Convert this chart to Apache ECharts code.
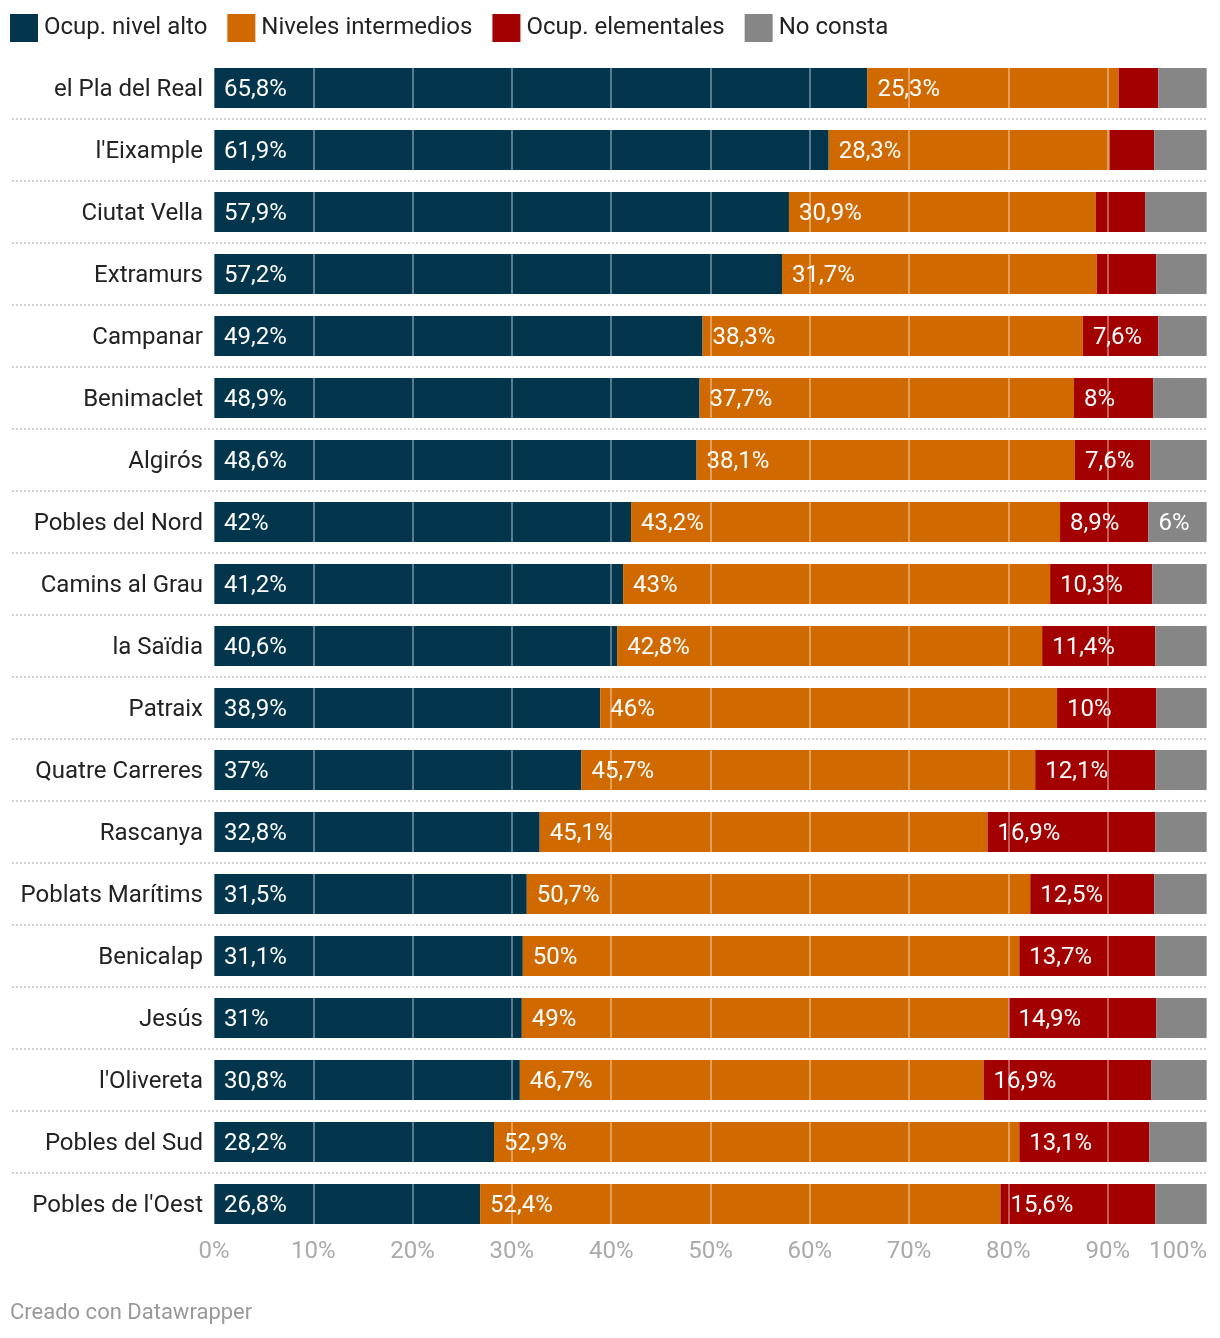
<!DOCTYPE html>
<html>
<head>
<meta charset="utf-8">
<script src="https://cdn.jsdelivr.net/npm/echarts@6/dist/echarts.min.js"></script>
<style>
  html, body { margin: 0; padding: 0; background: #fff; }
  #chart { width: 1220px; height: 1338px; }
</style>
</head>
<body>
<div id="chart"></div>
<script>
const categories = ["el Pla del Real", "l'Eixample", "Ciutat Vella", "Extramurs", "Campanar", "Benimaclet", "Algirós", "Pobles del Nord", "Camins al Grau", "la Saïdia", "Patraix", "Quatre Carreres", "Rascanya", "Poblats Marítims", "Benicalap", "Jesús", "l'Olivereta", "Pobles del Sud", "Pobles de l'Oest"];
const nivelAlto = [65.8, 61.9, 57.9, 57.2, 49.2, 48.9, 48.6, 42, 41.2, 40.6, 38.9, 37, 32.8, 31.5, 31.1, 31, 30.8, 28.2, 26.8];
const intermedios = [25.3, 28.3, 30.9, 31.7, 38.3, 37.7, 38.1, 43.2, 43, 42.8, 46, 45.7, 45.1, 50.7, 50, 49, 46.7, 52.9, 52.4];
const elementales = [4.0, 4.5, 5.0, 6.0, 7.6, 8, 7.6, 8.9, 10.3, 11.4, 10, 12.1, 16.9, 12.5, 13.7, 14.9, 16.9, 13.1, 15.6];
const noConsta = [4.9, 5.3, 6.2, 5.1, 4.9, 5.4, 5.7, 6, 5.5, 5.2, 5.1, 5.2, 5.2, 5.3, 5.2, 5.1, 5.6, 5.8, 5.2];
// which values carry a visible label in the reference
const elemLabeled = [false, false, false, false, true, true, true, true, true, true, true, true, true, true, true, true, true, true, true];
const noConstaLabeled = [false, false, false, false, false, false, false, true, false, false, false, false, false, false, false, false, false, false, false];
const seriesNames = ["Ocup. nivel alto", "Niveles intermedios", "Ocup. elementales", "No consta"];
const xTicks = [0, 10, 20, 30, 40, 50, 60, 70, 80, 90, 100];

const colors = ["#03354d", "#d06a00", "#a30000", "#868686"];
const FONT = "Roboto";

function fmt(v) { return String(v).replace('.', ',') + '%'; }

function mkData(vals, labeled) {
  return vals.map((v, i) => ({
    value: v,
    label: { show: labeled ? labeled[i] : true }
  }));
}

const seriesVals = [nivelAlto, intermedios, elementales, noConsta];
const seriesLabels = [null, null, elemLabeled, noConstaLabeled];

const chart = echarts.init(document.getElementById('chart'), null, { renderer: 'canvas' });

const option = {
  animation: false,
  backgroundColor: '#ffffff',
  textStyle: { fontFamily: FONT },
  color: colors,
  legend: {
    left: 10, top: 14, padding: 0,
    itemWidth: 28, itemHeight: 28, itemGap: 20,
    icon: 'rect',
    textStyle: { fontFamily: FONT, fontSize: 24, color: '#222', padding: [0, 0, 0, 1] },
    data: seriesNames
  },
  grid: { left: 214, right: 13, top: 57, bottom: 1338 - 1235, containLabel: false },
  xAxis: {
    type: 'value', min: 0, max: 100, interval: 10, z: 3,
    axisLine: { show: false }, axisTick: { show: false },
    splitLine: { show: true, lineStyle: { color: 'rgba(255,255,255,0.35)', width: 2 } },
    axisLabel: {
      fontFamily: FONT, fontSize: 24, color: '#aaaaaa', margin: 5,
      formatter: v => xTicks.indexOf(v) >= 0 ? v + '%' : '',
      alignMaxLabel: 'right'
    }
  },
  yAxis: {
    type: 'category', data: categories, inverse: true,
    axisLine: { show: false }, axisTick: { show: false }, splitLine: { show: false },
    axisLabel: {
      margin: 11,
      formatter: v => '{c|' + v + '}',
      rich: { c: { fontFamily: FONT, fontSize: 24, color: '#222', padding: [4, 0, 0, 0] } }
    }
  },
  series: seriesNames.map((name, k) => ({
    name, type: 'bar', stack: 'total', barWidth: 40,
    itemStyle: { color: colors[k] },
    label: {
      position: 'insideLeft', distance: 10, offset: [0, 2], color: '#ffffff',
      fontFamily: FONT, fontSize: 24,
      formatter: p => fmt(p.value)
    },
    data: mkData(seriesVals[k], seriesLabels[k])
  })),
  graphic: [{
    type: 'text', left: 10, top: 1302,
    style: { text: 'Creado con Datawrapper', fontFamily: FONT, fontSize: 22, fill: '#999999' }
  }]
};
chart.setOption(option);

// dotted separators between rows, positioned through the category axis scale
const seps = [];
const rightX = chart.convertToPixel({ xAxisIndex: 0 }, 100);
for (let i = 0; i < categories.length - 1; i++) {
  const y1 = chart.convertToPixel({ yAxisIndex: 0 }, categories[i]);
  const y2 = chart.convertToPixel({ yAxisIndex: 0 }, categories[i + 1]);
  const y = Math.round((y1 + y2) / 2);
  seps.push({
    type: 'line', silent: true, z: 1,
    shape: { x1: 12, y1: y, x2: rightX, y2: y },
    style: { stroke: '#d0d0d0', lineWidth: 2, lineDash: [2, 2] }
  });
}
chart.setOption({ graphic: option.graphic.concat(seps) });
</script>
</body>
</html>
